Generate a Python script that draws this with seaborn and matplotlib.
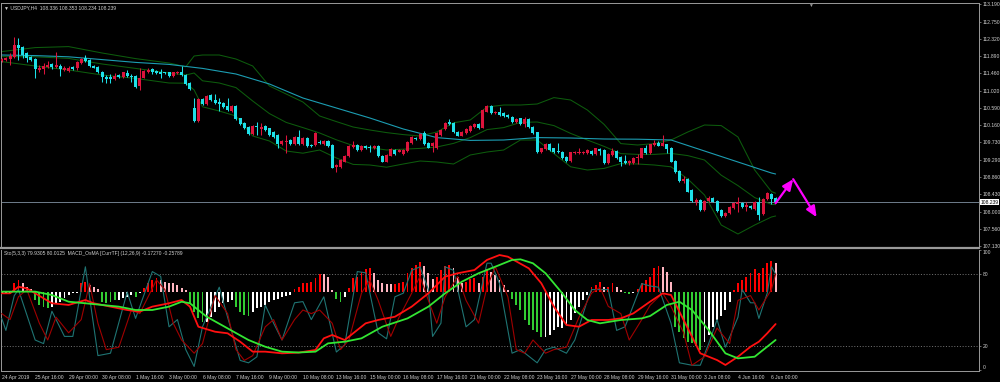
import numpy as np
import pandas as pd
import matplotlib
matplotlib.use("Agg")
import matplotlib.pyplot as plt
import matplotlib.transforms as mtransforms
import seaborn as sns

# ---- USDJPY H4 candles, bar 0 = 24 Apr 2019 ----
opens = [
    111.765, 111.79, 111.815, 111.87, 112.165, 112.115, 111.965, 111.87, 111.815, 111.54,
    111.565, 111.62, 111.68, 111.62, 111.65, 111.54, 111.52, 111.61, 111.58, 111.71,
    111.83, 111.79, 111.65, 111.61, 111.50, 111.37, 111.37, 111.31, 111.415, 111.37,
    111.47, 111.40, 111.40, 111.14, 111.35, 111.48, 111.56, 111.52, 111.50, 111.48,
    111.48, 111.39, 111.46, 111.50, 111.415, 111.22, 110.60, 110.27, 110.815, 110.69,
    110.915, 110.79, 110.735, 110.71, 110.65, 110.52, 110.65, 110.33, 110.22, 110.12,
    109.93, 110.14, 110.06, 110.14, 110.08, 109.99, 109.915, 109.68, 109.73, 109.79,
    109.69, 109.87, 109.68, 109.83, 109.66, 109.665, 109.75, 109.69, 109.765, 109.665,
    109.11, 109.11, 109.25, 109.39, 109.625, 109.665, 109.54, 109.64, 109.62, 109.58,
    109.64, 109.39, 109.25, 109.40, 109.54, 109.50, 109.44, 109.52, 109.71, 109.85,
    109.81, 109.96, 109.71, 109.64, 109.58, 109.915, 110.06, 110.25, 110.21, 110.00,
    109.90, 109.96, 110.02, 110.125, 110.19, 110.10, 110.50, 110.64, 110.46, 110.50,
    110.46, 110.415, 110.36, 110.235, 110.33, 110.19, 110.315, 110.12, 109.98, 109.48,
    109.565, 109.69, 109.58, 109.52, 109.50, 109.36, 109.265, 109.46, 109.46, 109.46,
    109.46, 109.52, 109.44, 109.565, 109.54, 109.21, 109.415, 109.52, 109.36, 109.27,
    109.22, 109.21, 109.33, 109.35, 109.58, 109.46, 109.665, 109.71, 109.65, 109.68,
    109.60, 109.265, 109.015, 108.765, 108.81, 108.54, 108.25, 108.29, 108.04, 108.27,
    108.35, 108.265, 108.04, 107.89, 107.96, 108.08, 108.19, 108.21, 108.125, 108.14,
    108.065, 108.25, 107.93, 108.31, 108.44, 108.336]
highs = [
    111.83, 111.86, 111.965, 112.37, 112.34, 112.14, 111.99, 111.90, 111.83, 111.66,
    111.715, 111.765, 111.715, 112.0, 111.68, 111.63, 111.63, 111.64, 111.76, 111.84,
    111.915, 111.81, 111.67, 111.63, 111.52, 111.415, 111.44, 111.465, 111.44, 111.50,
    111.54, 111.44, 111.42, 111.58, 111.54, 111.60, 111.60, 111.54, 111.56, 111.50,
    111.50, 111.50, 111.52, 111.64, 111.44, 111.24, 110.83, 110.84, 110.84, 110.91,
    110.94, 110.94, 110.84, 110.74, 110.84, 110.67, 110.67, 110.35, 110.24, 110.14,
    110.16, 110.24, 110.215, 110.16, 110.10, 110.01, 109.94, 109.79, 109.915, 109.81,
    109.89, 110.04, 109.86, 109.86, 109.69, 110.0, 109.79, 109.79, 109.79, 109.69,
    109.19, 109.31, 109.42, 109.66, 109.765, 109.69, 109.66, 109.66, 109.665, 109.66,
    109.66, 109.41, 109.44, 109.59, 109.56, 109.56, 109.56, 109.77, 109.90, 109.87,
    109.96, 110.015, 109.73, 109.73, 109.98, 110.06, 110.23, 110.315, 110.23, 110.02,
    110.02, 110.08, 110.16, 110.21, 110.21, 110.56, 110.66, 110.66, 110.52, 110.615,
    110.48, 110.44, 110.38, 110.34, 110.35, 110.36, 110.34, 110.14, 110.0, 109.60,
    109.71, 109.71, 109.60, 109.715, 109.52, 109.38, 109.50, 109.52, 109.58, 109.52,
    109.56, 109.54, 109.60, 109.59, 109.56, 109.46, 109.58, 109.54, 109.38, 109.415,
    109.29, 109.37, 109.43, 109.60, 109.665, 109.70, 109.79, 109.77, 109.915, 109.70,
    109.62, 109.29, 109.04, 108.89, 108.83, 108.56, 108.35, 108.31, 108.29, 108.39,
    108.37, 108.29, 108.06, 107.98, 108.15, 108.23, 108.36, 108.23, 108.25, 108.16,
    108.27, 108.37, 108.34, 108.48, 108.46, 108.353]
lows = [
    111.75, 111.77, 111.665, 111.85, 111.79, 111.84, 111.74, 111.76, 111.35, 111.49,
    111.44, 111.60, 111.565, 111.60, 111.40, 111.52, 111.50, 111.54, 111.55, 111.69,
    111.75, 111.62, 111.58, 111.46, 111.25, 111.215, 111.215, 111.29, 111.35, 111.35,
    111.37, 111.25, 111.09, 111.04, 111.33, 111.46, 111.44, 111.44, 111.35, 111.43,
    111.37, 111.37, 111.44, 111.39, 111.17, 111.04, 110.25, 110.25, 110.67, 110.67,
    110.77, 110.69, 110.52, 110.60, 110.52, 110.50, 110.29, 110.16, 110.06, 109.91,
    109.91, 109.915, 109.915, 110.02, 109.89, 109.84, 109.58, 109.66, 109.465, 109.67,
    109.67, 109.67, 109.66, 109.62, 109.61, 109.64, 109.69, 109.67, 109.62, 109.08,
    108.995, 109.09, 109.23, 109.37, 109.60, 109.52, 109.52, 109.56, 109.50, 109.56,
    109.37, 109.23, 109.23, 109.38, 109.42, 109.48, 109.42, 109.50, 109.69, 109.79,
    109.79, 109.66, 109.58, 109.50, 109.56, 109.89, 110.04, 110.16, 109.96, 109.88,
    109.88, 109.94, 110.0, 110.10, 110.06, 110.08, 110.48, 110.44, 110.44, 110.39,
    110.37, 110.34, 110.21, 110.21, 110.17, 110.12, 110.10, 109.94, 109.46, 109.46,
    109.54, 109.52, 109.46, 109.46, 109.31, 109.25, 109.25, 109.44, 109.43, 109.44,
    109.44, 109.42, 109.42, 109.415, 109.19, 109.19, 109.40, 109.31, 109.14, 109.20,
    109.165, 109.19, 109.19, 109.33, 109.44, 109.44, 109.64, 109.63, 109.63, 109.455,
    109.23, 108.96, 108.74, 108.72, 108.48, 108.24, 108.165, 108.02, 108.02, 108.25,
    108.23, 107.99, 107.87, 107.87, 107.94, 108.06, 108.0, 108.10, 108.025, 108.06,
    108.04, 107.79, 107.91, 108.29, 108.18, 108.234]
closes = [
    111.815, 111.84, 111.90, 112.165, 112.08, 111.915, 111.84, 111.79, 111.565, 111.60,
    111.64, 111.665, 111.615, 111.665, 111.56, 111.60, 111.60, 111.565, 111.73, 111.815,
    111.77, 111.64, 111.60, 111.48, 111.36, 111.315, 111.31, 111.40, 111.37, 111.48,
    111.39, 111.37, 111.11, 111.33, 111.515, 111.54, 111.48, 111.46, 111.44, 111.46,
    111.39, 111.48, 111.50, 111.415, 111.19, 111.065, 110.27, 110.815, 110.69, 110.89,
    110.79, 110.705, 110.69, 110.62, 110.54, 110.65, 110.31, 110.18, 110.08, 109.93,
    110.14, 110.11, 110.12, 110.04, 109.915, 109.86, 109.68, 109.765, 109.775, 109.69,
    109.87, 109.69, 109.83, 109.64, 109.64, 109.97, 109.71, 109.77, 109.64, 109.10,
    109.165, 109.29, 109.40, 109.64, 109.665, 109.54, 109.64, 109.58, 109.58, 109.64,
    109.39, 109.25, 109.415, 109.565, 109.44, 109.54, 109.54, 109.75, 109.875, 109.81,
    109.94, 109.68, 109.60, 109.71, 109.96, 110.04, 110.21, 110.18, 109.985, 109.90,
    110.00, 110.06, 110.14, 110.19, 110.08, 110.54, 110.64, 110.46, 110.50, 110.415,
    110.39, 110.36, 110.23, 110.315, 110.19, 110.315, 110.12, 109.96, 109.48, 109.58,
    109.69, 109.54, 109.48, 109.48, 109.33, 109.27, 109.48, 109.50, 109.50, 109.50,
    109.54, 109.44, 109.58, 109.52, 109.21, 109.44, 109.52, 109.33, 109.25, 109.22,
    109.265, 109.35, 109.375, 109.58, 109.46, 109.68, 109.72, 109.65, 109.71, 109.565,
    109.25, 108.98, 108.765, 108.815, 108.50, 108.265, 108.29, 108.04, 108.265, 108.33,
    108.25, 108.015, 107.89, 107.955, 108.125, 108.21, 108.25, 108.125, 108.165, 108.08,
    108.25, 107.915, 108.315, 108.46, 108.31, 108.239]

# moving average (cyan) sampled at bar indices
ma_idx = [0, 8, 16, 24, 32, 40, 48, 56, 64, 72, 80, 88, 96, 104, 112, 120, 128,
          136, 144, 152, 160, 168, 176, 184, 185]
ma_vals = [111.915, 111.90, 111.87, 111.80, 111.73, 111.68, 111.58, 111.44, 111.19,
           110.84, 110.59, 110.34, 110.065, 109.85, 109.78, 109.79, 109.85, 109.84,
           109.815, 109.81, 109.79, 109.515, 109.24, 108.965, 108.94]

# Bollinger bands (dark green) sampled at bar indices
band_idx = [0, 8, 16, 24, 32, 40, 44, 46, 48, 52, 56, 60, 64, 68, 72, 76, 80, 84, 88, 92,
            96, 100, 104, 108, 112, 116, 120, 124, 128, 132, 136, 140, 144, 148, 152,
            156, 160, 164, 168, 172, 176, 180, 184, 185]
band_upper = [112.0, 112.1, 112.125, 111.965, 111.825, 111.715, 111.62, 111.89, 111.915, 111.915,
              111.815, 111.64, 111.14, 110.94, 110.74, 110.39, 110.25, 110.115, 110.04, 109.975,
              109.925, 109.89, 109.99, 110.22, 110.29, 110.615, 110.665, 110.665, 110.69, 110.85,
              110.79, 110.54, 110.18, 109.70, 109.665, 109.70, 109.79, 109.99, 110.165, 110.15,
              109.865, 109.04, 108.50, 108.46]
band_mid = [111.875, 111.87, 111.83, 111.69, 111.58, 111.465, 111.415, 111.465, 111.27, 111.215,
            111.10, 110.765, 110.45, 110.23, 110.10, 109.965, 109.795, 109.65, 109.60, 109.54,
            109.56, 109.58, 109.615, 109.705, 109.85, 110.05, 110.10, 110.23, 110.24, 110.15,
            109.955, 109.79, 109.63, 109.45, 109.43, 109.43, 109.455, 109.40, 109.29, 108.91,
            108.65, 108.35, 108.18, 108.175]
band_lower = [111.75, 111.64, 111.54, 111.415, 111.33, 111.215, 111.21, 111.04, 110.62, 110.515,
              110.39, 109.89, 109.765, 109.515, 109.46, 109.54, 109.34, 109.18, 109.165, 109.11,
              109.19, 109.265, 109.24, 109.19, 109.415, 109.49, 109.54, 109.79, 109.79, 109.45,
              109.12, 109.04, 109.08, 109.20, 109.19, 109.165, 109.12, 108.815, 108.415, 107.665,
              107.44, 107.665, 107.865, 107.89]

# lower window: Stochastic (5,3,3) main / signal, in 0..100 window units
sto_idx = [0, 1, 3, 4, 8, 10, 12, 15, 17, 20, 21, 23, 26, 30, 32, 36, 38, 40, 42, 44,
           46, 48, 52, 54, 57, 59, 61, 63, 65, 67, 70, 72, 74, 77, 80, 82, 85, 87, 90, 92,
           94, 96, 98, 100, 102, 103, 105, 106, 108, 111, 113, 116, 117, 119, 122, 124, 128, 130, 132, 135,
           137, 140, 141, 145, 147, 149, 153, 155, 157, 160, 162, 165, 167, 169, 171, 173, 176, 177, 179, 180,
           181, 183, 184, 185]
sto_main = [43, 33, 62, 67, 25, 22, 49, 28, 28, 86, 61, 12, 14, 65, 43, 82, 78, 36, 42, 17,
            3, 36, 69, 44, 8, 6, 11, 54, 39, 25, 56, 57, 42, 61, 15, 21, 82, 81, 31, 26,
            61, 64, 83, 86, 67, 28, 39, 86, 83, 36, 42, 89, 89, 72, 14, 17, 6, 17, 19, 14,
            25, 58, 67, 67, 33, 36, 72, 70, 69, 39, 6, 4, 4, 22, 42, 19, 44, 67, 56, 56,
            43, 64, 86, 80]
sig_idx = [0, 2, 4, 6, 9, 11, 13, 16, 19, 21, 23, 25, 28, 31, 33, 37, 39, 41, 43, 46,
           48, 51, 54, 56, 58, 60, 63, 65, 67, 70, 72, 74, 76, 79, 81, 83, 86, 88, 90, 93,
           95, 98, 100, 102, 104, 106, 109, 111, 114, 116, 118, 121, 123, 125, 127, 130, 132, 135, 138, 141,
           143, 145, 148, 150, 153, 155, 158, 160, 163, 165, 168, 171, 174, 176, 179, 181, 184, 185]
sto_signal = [47, 42, 61, 67, 39, 25, 44, 31, 42, 72, 39, 17, 19, 50, 47, 75, 67, 39, 25, 14,
              22, 62, 47, 17, 8, 12, 36, 42, 25, 42, 50, 47, 50, 39, 17, 25, 64, 75, 58, 28,
              44, 64, 78, 58, 39, 61, 78, 58, 39, 69, 86, 61, 17, 14, 25, 14, 17, 19, 44, 64,
              69, 53, 47, 25, 42, 54, 64, 53, 31, 4, 11, 35, 22, 58, 62, 50, 67, 80]

# MACD_OsMA lines drawn in the same window (window units)
macd_idx = [0, 2, 4, 6, 8, 12, 16, 20, 22, 26, 30, 33, 36, 40, 43, 45, 47, 51, 54, 57,
            60, 63, 67, 71, 75, 77, 79, 82, 87, 90, 94, 98, 102, 106, 109, 113, 116, 119, 121, 126,
            129, 132, 135, 138, 141, 145, 148, 151, 155, 158, 160, 163, 167, 169, 171, 173, 176, 179, 181, 183,
            185]
macd_main = [63.9, 63.9, 69.4, 68, 63.9, 55.6, 54.2, 58.3, 55.6, 52.8, 50, 48.6, 52.8, 55.6, 58.3, 52.8, 36.1, 31.9, 30.6, 23.6,
             15.3, 15.3, 13.9, 14.5, 16.7, 26.4, 29.2, 25, 38.9, 41.7, 44.4, 52.8, 63.9, 77.8, 80.6, 83.3, 91.7, 95.8, 94.4, 84.7,
             72.2, 52.8, 37.5, 36.1, 41.7, 41.7, 43, 47.2, 57, 63.9, 62.5, 41.7, 13.9, 11.1, 8.3, 4.2, 11.1, 19.4, 23.6, 30.6,
             38.3]
msig_idx = [0, 8, 12, 16, 20, 24, 28, 32, 36, 40, 43, 45, 49, 54, 59, 63, 67, 71, 75, 78,
            82, 86, 91, 97, 102, 106, 110, 114, 118, 122, 124, 127, 130, 134, 137, 140, 143, 148, 153, 155,
            159, 162, 165, 169, 173, 176, 180, 182, 185]
macd_signal = [65.3, 65.3, 62.5, 56.9, 55.6, 54.2, 52.8, 50, 50, 52.8, 56.9, 55.6, 44.4, 34.7, 25, 19.4, 15.3, 14.6, 15.3, 22.2,
               23.6, 26.4, 36.1, 43, 52.8, 63.9, 73.6, 80.6, 86.1, 91.7, 92.2, 88.9, 80.6, 63.9, 50, 41.7, 38.9, 41.7, 43, 45,
               54.2, 56.9, 50, 33.3, 13.9, 9.7, 11.1, 16.7, 25]

# OsMA histogram, one bar per candle, relative to its zero level
hist_zero = 65.25
hist_vals = [
    -1.5, -1.5, -1.0, 7.0, 9.7, 7.0, 4.2, 2.0, -7.0, -11.0,
    -12.5, -13.9, -12.5, -9.7, -8.3, -5.6, -2.8, -1.4, -0.8, 7.0,
    8.3, 5.6, 4.2, 2.0, -8.3, -9.7, -8.3, -7.0, -7.0, -5.6,
    -4.2, -2.8, -4.2, -1.4, 2.8, 7.0, 9.7, 11.7, 10.0, 8.3,
    7.0, 7.0, 5.6, 2.8, 1.4, -9.7, -16.7, -22.2, -25.0, -25.0,
    -20.8, -16.7, -12.5, -9.7, -8.3, -7.0, -12.5, -16.7, -19.4, -20.3,
    -16.7, -13.9, -12.5, -11.1, -8.3, -7.0, -6.4, -4.7, -3.6, -2.8,
    2.0, 4.2, 6.9, 6.9, 8.3, 11.1, 14.7, 14.7, 11.9, 1.4,
    -6.4, -8.3, -4.7, 2.8, 11.1, 12.5, 16.1, 18.9, 19.4, 15.3,
    9.7, 7.5, 6.4, 6.4, 6.4, 6.9, 8.3, 15.3, 19.4, 22.2,
    25.0, 21.4, 15.3, 10.3, 12.5, 18.1, 21.4, 22.2, 19.4, 12.5,
    6.9, 8.3, 10.3, 11.1, 7.5, 12.5, 18.6, 16.7, 13.9, 9.7,
    5.6, 1.4, -6.4, -11.1, -15.3, -23.6, -27.8, -31.9, -33.3, -37.5,
    -37.5, -36.1, -31.9, -29.2, -30.6, -27.8, -23.6, -18.1, -12.5, -6.9,
    -2.8, 4.2, 5.6, 8.3, 4.2, 4.2, 6.9, 4.2, 1.4, -1.4,
    -1.9, -0.8, 1.9, 6.9, 9.7, 12.5, 19.4, 21.4, 20.8, 16.7,
    8.3, -29.2, -33.3, -38.9, -41.7, -43.0, -45.3, -48.6, -41.7, -36.1,
    -29.7, -23.6, -20.3, -15.3, -8.3, 1.4, 6.9, 9.7, 12.5, 15.3,
    18.6, 15.3, 19.4, 24.2, 25.8, 24.2]
# r = rising above zero, p = falling above zero, g = falling below, w = rising below
hist_kind = list("".join([
    "wwwrrpppgg", "ggwwwwwwwr", "rpppggggww", "wwgwrrrrpp", "pppppggggw",
    "wwwwwwgggg", "wwwwwwwwww", "rrrrrrrppp", "ggwrrrrrrp", "pppprrrrrr",
    "rppprrrrpp", "prrrprrppp", "ppgggggggg", "wwwwwwwwww", "wrrrprrppg",
    "gwrrrrrrpp", "pgggggggww", "wwwwwrrrrr", "rrrrrp"]))

time_idx = [0, 8, 16, 24, 32, 40, 48, 56, 64, 72, 80, 88, 96, 104, 112, 120, 128,
            136, 144, 152, 160, 168, 176, 184]
time_labels = ["24 Apr 2019", "25 Apr 16:00", "29 Apr 00:00", "30 Apr 08:00", "1 May 16:00",
               "3 May 00:00", "6 May 08:00", "7 May 16:00", "9 May 00:00", "10 May 08:00",
               "13 May 16:00", "15 May 00:00", "16 May 08:00", "17 May 16:00", "21 May 00:00",
               "22 May 08:00", "23 May 16:00", "27 May 00:00", "28 May 08:00", "29 May 16:00",
               "31 May 00:00", "3 Jun 08:00", "4 Jun 16:00", "6 Jun 00:00"]
price_ticks = [113.19, 112.75, 112.32, 111.89, 111.46, 111.02, 110.59, 110.16, 109.73,
               109.29, 108.86, 108.43, 108.00, 107.56, 107.13]
sto_ticks = [0, 20, 80, 100]

# hand-drawn forecast arrows (bar index, price)
arrow_idx = [185.0, 189.2, 194.8]
arrow_price = [108.21, 108.81, 107.86]

BULL = "#dc143c"
BEAR = "#1ee0e8"
BAND = "#0d5c0d"
MA = "#1c9db2"
TXT = "#d0d0d0"
GRAY = "#9a9a9a"
HIST_COL = {"r": "#ff0000", "p": "#ffb6c1", "g": "#32cd32", "w": "#ffffff"}

sns.set_theme(style="dark", rc={"axes.facecolor": "black", "figure.facecolor": "black",
                                "axes.grid": False})
plt.rcParams["font.family"] = ["Liberation Sans", "DejaVu Sans"]

W, H = 1000, 382
fig = plt.figure(figsize=(W / 100, H / 100), dpi=100)
fig.patch.set_facecolor("black")


def box(x0, y0, x1, y1):
    return [x0 / W, 1 - y1 / H, (x1 - x0) / W, (y1 - y0) / H]


ax = fig.add_axes(box(1, 3, 978.5, 247.5))
ax2 = fig.add_axes(box(1, 249.5, 978.5, 370.5))

# candles
df = pd.DataFrame({"open": opens, "high": highs, "low": lows, "close": closes})
df["idx"] = np.arange(len(df))
up = df["close"] >= df["open"]
for mask, col in [(up, BULL), (~up, BEAR)]:
    d = df[mask]
    ax.vlines(d["idx"], d["low"], d["high"], color=col, lw=0.75, zorder=3)
    lo = np.minimum(d["open"], d["close"])
    hgt = np.maximum((d["close"] - d["open"]).abs(), 0.03)
    ax.bar(d["idx"], hgt, bottom=lo, width=0.72, color=col, linewidth=0, zorder=4)

for vals in (band_upper, band_mid, band_lower):
    sns.lineplot(x=band_idx, y=vals, ax=ax, color=BAND, linewidth=0.75, zorder=2)
sns.lineplot(x=ma_idx, y=ma_vals, ax=ax, color=MA, linewidth=0.8, zorder=2)

ax.axhline(closes[-1], color="#6f7d8c", lw=0.7, zorder=1)

for i in range(len(arrow_idx) - 1):
    ax.annotate("", xy=(arrow_idx[i + 1], arrow_price[i + 1]),
                xytext=(arrow_idx[i], arrow_price[i]),
                arrowprops=dict(arrowstyle="-|>,head_length=0.8,head_width=0.35",
                                color="#ff00ff", lw=1.6, shrinkA=0, shrinkB=0,
                                mutation_scale=8), zorder=6)

# lower window
ax2.bar(df["idx"], hist_vals, bottom=hist_zero, width=0.45,
        color=[HIST_COL[k] for k in hist_kind], linewidth=0, zorder=2)
ax2.axhline(80, color=GRAY, lw=0.5, ls=(0, (1.5, 2.5)), zorder=1)
ax2.axhline(20, color=GRAY, lw=0.5, ls=(0, (1.5, 2.5)), zorder=1)
sns.lineplot(x=sto_idx, y=sto_main, ax=ax2, color="#1f7473", linewidth=0.8, zorder=3)
sns.lineplot(x=sig_idx, y=sto_signal, ax=ax2, color="#a00000", linewidth=0.8, zorder=3)
sns.lineplot(x=macd_idx, y=macd_main, ax=ax2, color="#ff1010", linewidth=1.3, zorder=4)
sns.lineplot(x=msig_idx, y=macd_signal, ax=ax2, color="#33e633", linewidth=1.3, zorder=4)

xl = (-0.17, 233.5)
for a in (ax, ax2):
    a.set_xlim(*xl)
    a.set_facecolor("black")
    a.set_xlabel("")
    a.set_ylabel("")
    for s in a.spines.values():
        s.set_color(GRAY)
        s.set_linewidth(0.7)
    a.yaxis.tick_right()
ax.set_ylim(107.1025, 113.215)
ax2.set_ylim(-0.4, 100.4)
ax.spines["bottom"].set_linewidth(1.6)
ax2.spines["top"].set_visible(False)

ax.set_xticks([])
ax.set_yticks(price_ticks)
ax.set_yticklabels([f"{p:.3f}" for p in price_ticks])
ax.tick_params(axis="y", colors=GRAY, labelcolor=TXT, labelsize=3.6, length=1.5,
               width=0.5, pad=1.5)

ax2.set_yticks(sto_ticks)
ax2.set_yticklabels([str(t) for t in sto_ticks])
ax2.tick_params(axis="y", colors=GRAY, labelcolor=TXT, labelsize=3.6, length=1.5,
                width=0.5, pad=1.5)
ylabs = ax2.get_yticklabels()
ylabs[0].set_va("bottom")
ylabs[-1].set_va("top")

ax2.set_xticks(time_idx)
ax2.set_xticklabels(time_labels, ha="left")
ax2.tick_params(axis="x", colors=GRAY, labelcolor=TXT, labelsize=3.6, length=2,
                width=0.5, pad=1.5)

tr = mtransforms.blended_transform_factory(ax.transAxes, ax.transData)
ax.text(1.002, closes[-1], f"{closes[-1]:.3f}", transform=tr, ha="left", va="center",
        fontsize=3.6, color="black",
        bbox=dict(boxstyle="square,pad=0.15", fc="white", ec="none"), clip_on=False)

fig.text(4 / W, 1 - 7.5 / H, "\u25bc USDJPY,H4  108.336 108.353 108.234 108.239",
         color=TXT, fontsize=3.6, ha="left", va="center")
fig.text(4 / W, 1 - 254 / H,
         "Sto(5,3,3) 79.9305 80.0125  MACD_OsMA [CurrTF] (12,26,9) -0.17270 -0.25789",
         color=TXT, fontsize=3.6, ha="left", va="center")
fig.text(810 / W, 1 - 5 / H, "\u25bc", color=GRAY, fontsize=3.5, ha="center", va="center")

fig.savefig("out.png", dpi=100, facecolor="black")
